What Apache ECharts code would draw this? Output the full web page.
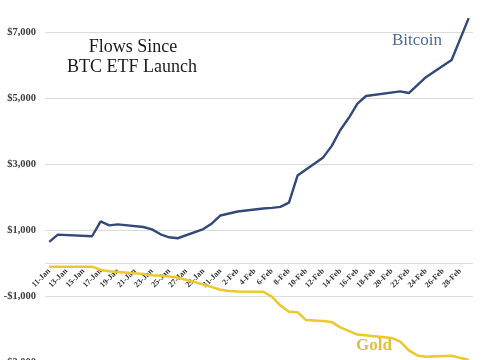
<!DOCTYPE html>
<html>
<head>
<meta charset="utf-8">
<script src="https://cdn.jsdelivr.net/npm/echarts@6/dist/echarts.min.js"></script>
<style>
html,body{margin:0;padding:0;background:#fff;}
#chart{width:485px;height:360px;}
</style>
</head>
<body>
<div id="chart"></div>
<script>
// Categories: calendar days 11-Jan .. 29-Feb
var categories = [
  "11-Jan","12-Jan","13-Jan","14-Jan","15-Jan","16-Jan","17-Jan","18-Jan","19-Jan","20-Jan",
  "21-Jan","22-Jan","23-Jan","24-Jan","25-Jan","26-Jan","27-Jan","28-Jan","29-Jan","30-Jan",
  "31-Jan","1-Feb","2-Feb","3-Feb","4-Feb","5-Feb","6-Feb","7-Feb","8-Feb","9-Feb",
  "10-Feb","11-Feb","12-Feb","13-Feb","14-Feb","15-Feb","16-Feb","17-Feb","18-Feb","19-Feb",
  "20-Feb","21-Feb","22-Feb","23-Feb","24-Feb","25-Feb","26-Feb","27-Feb","28-Feb","29-Feb"
];
// Cumulative flows ($M), null = no reading (line connects across)
var bitcoin = [
  640, 860, null, null, null, 810, 1260, 1140, 1170, null,
  null, 1090, 1020, 870, 780, 750, null, null, 1030, 1200,
  1440, 1500, 1560, null, null, 1650, 1670, 1700, 1830, 2650,
  null, null, 3200, 3550, 4030, 4400, 4830, 5060, null, null,
  null, 5200, 5150, null, 5630, null, null, 6150, null, 7420
];
var gold = [
  -110, null, null, null, null, -110, -210, -250, -270, null,
  null, -330, -370, -385, -410, -440, null, null, -650, -730,
  -810, -850, -860, null, null, -870, -1020, -1290, -1475, -1490,
  -1730, null, -1760, -1790, -1950, null, -2170, null, null, null,
  -2270, -2380, -2650, -2800, -2840, null, null, -2810, null, -2940
];
var yLabelValues = [-3000, -1000, 1000, 3000, 5000, 7000];
var yGridValues = [-3000, -1000, 0, 1000, 3000, 5000, 7000];
var titleLines = ["Flows Since", "BTC ETF Launch"];

var chart = echarts.init(document.getElementById('chart'), null, {renderer: 'canvas'});
var serif = '"Liberation Serif", "DejaVu Serif", serif';
function fmt(v) {
  var s = Math.abs(v).toString().replace(/\B(?=(\d{3})+(?!\d))/g, ',');
  return (v < 0 ? '-$' : '$') + s;
}
chart.setOption({
  animation: false,
  backgroundColor: '#ffffff',
  grid: {left: 45, right: 12, top: -1, bottom: -2, containLabel: false, outerBoundsMode: 'none'},
  xAxis: {
    type: 'category',
    data: categories,
    boundaryGap: true,
    position: 'bottom',
    offset: -99,
    axisLine: {show: false},
    axisTick: {show: false},
    axisLabel: {
      interval: 1, rotate: 45, margin: 7,
      fontFamily: serif, fontSize: 8, fontWeight: 'bold', color: '#333333'
    },
    splitLine: {show: false}
  },
  yAxis: {
    type: 'value',
    min: -3000, max: 8000,
    axisLine: {show: false},
    axisTick: {show: false, customValues: yGridValues},
    axisLabel: {
      customValues: yLabelValues, margin: 9,
      fontFamily: serif, fontSize: 10.5, fontWeight: 'bold', color: '#404040',
      formatter: fmt
    },
    splitLine: {show: true, lineStyle: {color: '#dcdcdc', width: 1}}
  },
  series: [
    {
      name: 'Bitcoin', type: 'line', data: bitcoin, connectNulls: true,
      symbol: 'none', smooth: false,
      lineStyle: {color: '#33497a', width: 2.4}
    },
    {
      name: 'Gold', type: 'line', data: gold, connectNulls: true,
      symbol: 'none', smooth: false,
      lineStyle: {color: '#ebc82c', width: 2.5}
    }
  ],
  graphic: [
    {type: 'text', style: {x: 133, y: 47, text: titleLines[0], textAlign: 'center', textVerticalAlign: 'middle', font: '18px ' + serif, fill: '#1a1a1a'}},
    {type: 'text', style: {x: 132, y: 67, text: titleLines[1], textAlign: 'center', textVerticalAlign: 'middle', font: '18px ' + serif, fill: '#1a1a1a'}},
    {type: 'text', style: {x: 392, y: 41, text: 'Bitcoin', textAlign: 'left', textVerticalAlign: 'middle', font: '17px ' + serif, fill: '#4d6a98'}},
    {type: 'text', style: {x: 356, y: 346, text: 'Gold', textAlign: 'left', textVerticalAlign: 'middle', font: 'bold 17px ' + serif, fill: '#dcc23a'}}
  ]
});
</script>
</body>
</html>
